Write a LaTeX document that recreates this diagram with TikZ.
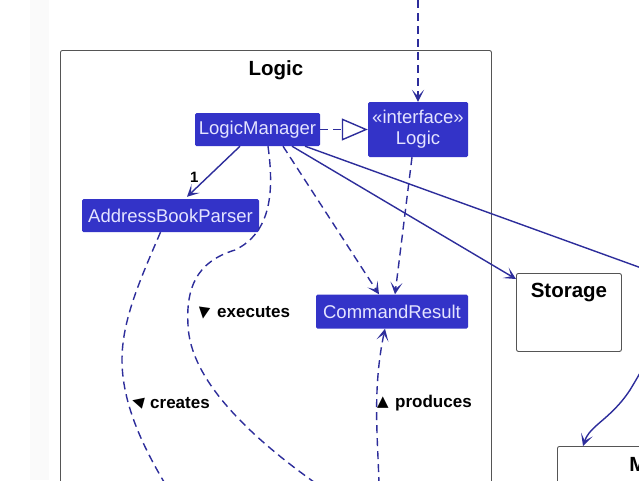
\documentclass[tikz,border=0pt]{standalone}
\usepackage{fontspec}
\setmainfont{Liberation Sans}
\newfontfamily\glyphfont{DejaVu Sans}
\usetikzlibrary{
    arrows.meta,
    positioning,
    calc
}
\definecolor{LogicBlue}{RGB}{51,51,200}
\definecolor{LogicText}{RGB}{228,228,255}
\definecolor{EdgeBlue}{RGB}{45,45,155}
\definecolor{PkgGray}{RGB}{85,85,85}
\tikzset{
  cls/.style     = {fill=LogicBlue, rounded corners=1.5pt, inner sep=0pt,
                    text=LogicText, align=center,
                    font=\fontsize{18.5}{21}\selectfont},
  pkg/.style     = {draw=PkgGray, fill=white, line width=0.9pt,
                    rounded corners=2pt, inner sep=0pt},
  pkgtitle/.style= {font=\bfseries\fontsize{20.5}{22}\selectfont, inner sep=0pt},
  lbl/.style     = {font=\bfseries\fontsize{17}{19}\selectfont, inner sep=0pt,
                    anchor=west},
  tri/.style     = {font=\glyphfont\fontsize{15}{15}\selectfont, inner sep=0pt},
  arr/.style     = {-{Stealth[length=12pt, width=12pt, inset=6.5pt]},
                    EdgeBlue, line width=1.4pt},
  darr/.style    = {arr, dash pattern=on 8pt off 5pt},
  dline/.style   = {EdgeBlue, line width=1.4pt, dash pattern=on 8pt off 5pt}
}

\begin{document}
\begin{tikzpicture}[x=1pt, y=-1pt]
\useasboundingbox (0,0) rectangle (639,480);
\clip (0,0) rectangle (639,480);
\fill[black!2] (30,0) rectangle (49,480);

% packages
\node[pkg, anchor=north west, minimum width=431pt, minimum height=460pt,
      label={[pkgtitle, anchor=north, yshift=-10pt]north:Logic}] (logicpkg) at (60,50) {};
\node[pkg, anchor=north west, minimum width=105pt, minimum height=78pt,
      label={[pkgtitle, anchor=north, yshift=-10pt]north:Storage}] (storage) at (516,273) {};
\node[pkg, anchor=north west, minimum width=203pt, minimum height=80pt,
      label={[pkgtitle, anchor=north, yshift=-10pt]north:Model}] (model) at (557,446) {};

% classes
\node[cls, minimum width=125pt, minimum height=33pt] (lm) at (257.5,129.5) {LogicManager};
\node[cls, minimum width=100pt, minimum height=55pt] (ilogic) at (418,129.5) {«interface»\\Logic};
\node[cls, minimum width=177pt, minimum height=33pt] (abp) at (170.5,215.5) {AddressBookParser};
\node[cls, minimum width=152pt, minimum height=34pt] (cr) at (392,311.5) {CommandResult};

\coordinate (ui) at (418,0);
\coordinate (cmd) at (340,500);
\coordinate (cmdp) at (175,500);
\coordinate (cmdr) at (379,485);

\draw[darr] (ui) -- (ilogic.north);
\draw[dline, -{Triangle[open, length=26pt, width=22pt, fill=white]}] (lm.east) -- (ilogic.west);
\draw[arr] ([xshift=-17.5pt]lm.south) -- ([xshift=16.5pt, yshift=2pt]abp.north)
    node[pos=0.62, left=8pt, text=black, font=\bfseries\fontsize{15}{16}\selectfont,
         inner sep=0pt] (one) {1};
\draw[darr] ([xshift=25.5pt]lm.south) -- ([xshift=-13pt]cr.north);
\draw[darr] ([xshift=-6pt]ilogic.south) -- ([xshift=3pt]cr.north);
\draw[arr] ([xshift=34.5pt]lm.south) -- ([yshift=-6pt]storage.north west);
\draw[arr] ([xshift=47.5pt]lm.south) -- (640,267.5)
    .. controls (690,285) and (660,340) .. (630,390)
    .. controls (610,420) and (590,425) .. ([xshift=26pt]model.north west);

% dependencies leaving the picture
\draw[dline]
    ([xshift=10.5pt]lm.south) .. controls (274,190) and (272,232) .. (235,250)
    .. controls (195,262) and (186,290) .. (188,325)
    .. controls (190,380) and (250,440) .. (cmd);
\draw[dline]
    ([xshift=-10pt]abp.south) .. controls (140,280) and (122,320) .. (122,360)
    .. controls (122,410) and (150,460) .. (cmdp);
\draw[darr] (cmdr) .. controls (378,440) and (372,390) .. ([xshift=-7pt]cr.south);

\node[tri, rotate=-8] (texec) at (204,313) {▼};
\node[lbl] (exec) at (217,312) {executes};
\node[tri, rotate=-15] (tcrea) at (138,402) {◀};
\node[lbl] (crea) at (150,403) {creates};
\node[tri] (tprod) at (383,403) {▲};
\node[lbl] (prod) at (395,403) {produces};
\end{tikzpicture}
\end{document}
